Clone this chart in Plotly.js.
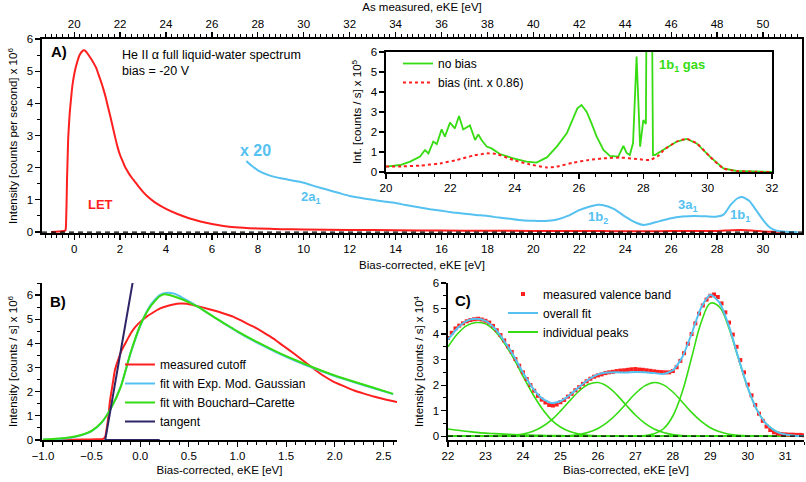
<!DOCTYPE html>
<html>
<head>
<meta charset="utf-8">
<script src="https://cdn.plot.ly/plotly-3.0.1.min.js"></script>
<style>html,body{margin:0;padding:0;background:#fff;}#chart{width:806px;height:482px;}</style>
</head>
<body>
<div id="chart"></div>
<script>
// ---------- Panel A : full spectrum (10^6 counts/s) ----------
const letX = [-1.0,-0.8,-0.6,-0.45,-0.38,-0.36,-0.33,-0.31,-0.28,-0.26,-0.22,-0.19,-0.14,-0.1,-0.05,0.0,0.07,0.14,0.2,0.27,0.34,0.41,0.48,0.55,0.65,0.75,0.85,0.96,1.06,1.17,1.27,1.37,1.47,1.58,1.68,1.78,1.88,1.99,2.1,2.2,2.3,2.4,2.52,2.64,2.8,3.0,3.25,3.5,4.0,4.5,5.0,5.5,6.0,6.5,7.0,8.0,9.0,10,12,14,16,18,20,22,23,24,25,26,27,28,28.5,29,29.5,30,30.5,31];
const letY = [0.0,0.01,0.02,0.03,0.05,0.14,0.9,1.65,2.4,2.9,3.4,3.72,4.1,4.4,4.68,4.89,5.12,5.3,5.44,5.54,5.61,5.65,5.64,5.58,5.48,5.37,5.25,5.1,4.9,4.68,4.45,4.2,3.9,3.58,3.27,2.96,2.67,2.41,2.22,2.05,1.92,1.8,1.68,1.57,1.42,1.25,1.07,0.93,0.72,0.56,0.43,0.33,0.25,0.19,0.15,0.11,0.09,0.08,0.065,0.055,0.045,0.04,0.035,0.03,0.03,0.025,0.025,0.03,0.03,0.035,0.05,0.06,0.05,0.02,0.005,0.0];
const biasShift = 20;   // "as measured" = bias-corrected + 20 eV

const x20X = [7.5,7.75,8.0,8.5,9.0,9.5,10.0,10.5,11.0,11.5,12.0,12.5,13.0,13.5,14.0,14.5,15.0,15.5,16.0,16.5,17.0,17.5,18.0,18.5,19.0,19.5,20.0,20.5,21.0,21.5,22.0,22.5,22.8,23.0,23.5,24.0,24.5,24.8,25.0,25.5,26.0,26.5,27.0,27.5,28.0,28.3,28.6,28.9,29.1,29.4,29.7,30.0,30.3,30.6,31.0,31.5];
const x20Y = [2.21,2.05,1.92,1.76,1.67,1.6,1.53,1.42,1.32,1.22,1.12,1.06,1.0,0.95,0.9,0.83,0.77,0.71,0.66,0.61,0.57,0.53,0.5,0.45,0.41,0.37,0.35,0.34,0.38,0.5,0.68,0.8,0.85,0.84,0.72,0.48,0.28,0.22,0.24,0.34,0.43,0.48,0.5,0.49,0.48,0.55,0.85,1.05,1.09,0.97,0.68,0.38,0.14,0.04,0.01,0.0];

// ---------- Inset (10^5 counts/s) ----------
const noBiasX = [20.0,20.44,20.75,21.06,21.21,21.32,21.47,21.58,21.73,21.83,21.99,22.14,22.27,22.4,22.61,22.77,22.87,22.97,23.13,23.28,23.54,23.96,24.37,24.68,25.0,25.31,25.62,25.83,25.95,26.08,26.24,26.39,26.55,26.76,26.96,27.22,27.38,27.48,27.58,27.68,27.79,27.9,28.0,28.08,28.12,28.24,28.3,28.36,28.62,29.04,29.35,29.66,30.07,30.49,30.9,31.5,32.0];
const noBiasY = [0.27,0.35,0.52,0.77,1.1,0.93,1.52,1.4,2.13,1.77,2.47,2.18,2.8,2.13,2.33,1.6,1.88,1.6,1.27,1.18,0.9,0.68,0.52,0.47,0.73,1.27,1.93,2.77,3.18,3.35,3.0,2.43,1.77,1.1,0.8,0.77,1.3,0.95,0.85,1.45,5.77,1.27,2.6,2.4,15,15,0.85,0.85,1.1,1.52,1.65,1.43,0.77,0.18,0.05,0.01,0.0];
const biasX = [20.0,20.5,21.06,21.68,22.2,22.72,23.13,23.44,23.96,24.47,25.0,25.3,25.83,26.3,26.76,27.3,27.8,28.2,28.5,28.62,29.04,29.35,29.66,30.07,30.49,30.9,31.5,32.0];
const biasY = [0.27,0.28,0.32,0.43,0.6,0.82,0.93,0.9,0.6,0.38,0.23,0.27,0.47,0.6,0.68,0.72,0.65,0.6,0.85,1.08,1.52,1.65,1.43,0.77,0.18,0.05,0.01,0.0];

// ---------- Panel B : cutoff (10^6 counts/s) ----------
const bcX  = [-1.0,-0.9,-0.8,-0.7,-0.6,-0.5,-0.4,-0.3,-0.2,-0.1,0.0,0.1,0.2,0.25,0.3,0.4,0.5,0.6,0.7,0.8,0.9,1.0,1.2,1.4,1.6,1.8,2.0,2.2,2.4,2.6];
const bcY  = [0.02,0.04,0.07,0.12,0.22,0.38,0.72,1.32,2.2,3.6,4.75,5.5,5.95,6.03,6.0,5.87,5.7,5.5,5.24,4.98,4.74,4.5,4.06,3.66,3.3,2.97,2.67,2.41,2.16,1.91];
const emgX = [-1.0,-0.8,-0.7,-0.6,-0.5,-0.4,-0.3,-0.2,-0.1,0.0,0.1,0.2,0.28,0.35,0.4,0.5,0.6,0.8,1.0,1.2,1.4,1.6,1.8,2.0,2.2,2.4,2.6];
const emgY = [0.01,0.05,0.1,0.2,0.37,0.7,1.32,2.22,3.58,4.72,5.55,6.0,6.1,6.06,5.97,5.74,5.5,4.98,4.48,4.03,3.63,3.27,2.95,2.65,2.39,2.14,1.9];
const tanX = [0.2,-0.36,-0.07];
const tanY = [0.0,0.0,6.7];

// ---------- Panel C : valence band (10^4 counts/s) ----------
const vbX = [22.0,22.1,22.2,22.3,22.4,22.5,22.6,22.7,22.8,22.9,23.0,23.1,23.2,23.3,23.4,23.5,23.6,23.7,23.8,23.9,24.0,24.1,24.2,24.3,24.4,24.5,24.6,24.7,24.8,24.9,25.0,25.1,25.2,25.3,25.4,25.5,25.6,25.7,25.8,25.9,26.0,26.1,26.2,26.3,26.4,26.5,26.6,26.7,26.8,26.9,27.0,27.1,27.2,27.3,27.4,27.5,27.6,27.7,27.8,27.9,28.0,28.1,28.2,28.3,28.4,28.5,28.6,28.7,28.8,28.9,29.0,29.1,29.2,29.3,29.4,29.5,29.6,29.7,29.8,29.9,30.0,30.1,30.2,30.3,30.4,30.5,30.6,30.7,30.8,30.9,31.0,31.1,31.2,31.3,31.4,31.5];
const vbY = [3.85,4.05,4.22,4.33,4.42,4.5,4.55,4.58,4.6,4.57,4.52,4.45,4.32,4.15,3.96,3.75,3.52,3.3,3.02,2.76,2.5,2.24,2.0,1.78,1.58,1.43,1.32,1.22,1.2,1.24,1.33,1.42,1.55,1.66,1.8,1.92,2.05,2.15,2.25,2.33,2.38,2.42,2.47,2.5,2.52,2.55,2.57,2.58,2.6,2.62,2.63,2.61,2.6,2.58,2.56,2.54,2.52,2.51,2.5,2.5,2.55,2.7,2.95,3.25,3.62,4.0,4.42,4.8,5.12,5.35,5.5,5.55,5.45,5.2,4.85,4.45,3.98,3.5,2.98,2.5,2.02,1.6,1.22,0.88,0.6,0.38,0.24,0.15,0.1,0.08,0.07,0.06,0.06,0.05,0.05,0.04];
const fitX = [22.0,22.25,22.5,22.75,23.0,23.25,23.5,23.75,24.0,24.25,24.5,24.75,25.0,25.25,25.5,25.75,26.0,26.25,26.5,26.75,27.0,27.25,27.5,27.75,28.0,28.25,28.5,28.75,29.0,29.25,29.5,29.75,30.0,30.25,30.5,30.75,31.0,31.25,31.5];
const fitY = [3.78,4.23,4.52,4.6,4.52,4.22,3.73,3.15,2.49,1.9,1.49,1.3,1.37,1.61,1.93,2.22,2.42,2.49,2.5,2.49,2.51,2.5,2.47,2.44,2.58,3.09,4.01,5.02,5.54,5.22,4.3,3.07,1.9,1.01,0.47,0.19,0.064,0.02,0.005];
const peak1 = [3.5,4.0,4.33,4.45,4.4,4.12,3.65,3.05,2.35,1.68,1.1,0.65,0.36,0.18,0.08,0.03,0.01,0,0,0,0,0,0,0,0,0,0,0,0,0,0,0,0,0,0,0,0,0,0];
const peak2 = [0,0,0,0,0,0,0,0.035,0.085,0.18,0.36,0.62,0.98,1.39,1.77,2.03,2.1,1.95,1.63,1.22,0.83,0.51,0.28,0.14,0.06,0.024,0.009,0.003,0,0,0,0,0,0,0,0,0,0,0];
const peak3 = [0,0,0,0,0,0,0,0,0,0,0,0,0.01,0.027,0.067,0.15,0.3,0.54,0.87,1.27,1.67,1.97,2.1,2.01,1.73,1.34,0.93,0.59,0.33,0.17,0.077,0.032,0.012,0.004,0,0,0,0,0];
const peak4 = [0,0,0,0,0,0,0,0,0,0,0,0,0,0,0,0,0,0,0,0,0.005,0.023,0.09,0.29,0.79,1.73,3.07,4.43,5.21,5.05,4.22,3.04,1.89,1.01,0.47,0.19,0.064,0.019,0.005];
const peak5 = [0.28,0.23,0.19,0.15,0.12,0.1,0.08,0.065,0.05,0.04,0.03,0.025,0.02,0.015,0.01,0.008,0.005,0,0,0,0,0,0,0,0,0,0,0,0,0,0,0,0,0,0,0,0,0,0];

const RED = '#ff1f1f', BLUE = '#55c1f0', GREEN = '#35dc12', NAVY = '#2d2566';
const FONT = 'Liberation Sans, Arial, sans-serif';

const traces = [
  // Panel A
  {x:letX, y:letY, xaxis:'x', yaxis:'y', mode:'lines', line:{color:RED, width:2, shape:'spline', smoothing:0.5}, showlegend:false},
  {x:x20X, y:x20Y, xaxis:'x', yaxis:'y', mode:'lines', line:{color:BLUE, width:2, shape:'spline', smoothing:0.6}, showlegend:false},
  // same LET spectrum on the "as measured" scale (invisible, carries the top axis)
  {x:letX.map(v => v + biasShift), y:letY, xaxis:'x2', yaxis:'y', mode:'lines', line:{color:'rgba(0,0,0,0)', width:0}, showlegend:false, hoverinfo:'skip'},
  // Inset
  {x:noBiasX, y:noBiasY, xaxis:'x3', yaxis:'y3', mode:'lines', name:'no bias', line:{color:GREEN, width:1.8}, legend:'legend'},
  {x:biasX, y:biasY, xaxis:'x3', yaxis:'y3', mode:'lines', name:'bias (int. x 0.86)', line:{color:RED, width:2, dash:'dot', shape:'spline', smoothing:0.6}, legend:'legend'},
  // Panel B
  {x:letX, y:letY, xaxis:'x4', yaxis:'y4', mode:'lines', name:'measured cutoff', line:{color:RED, width:2, shape:'spline', smoothing:0.5}, legend:'legend2'},
  {x:emgX, y:emgY, xaxis:'x4', yaxis:'y4', mode:'lines', name:'fit with Exp. Mod. Gaussian', line:{color:BLUE, width:2, shape:'spline', smoothing:0.6}, legend:'legend2'},
  {x:bcX, y:bcY, xaxis:'x4', yaxis:'y4', mode:'lines', name:'fit with Bouchard\u2013Carette', line:{color:GREEN, width:2, shape:'spline', smoothing:0.6}, legend:'legend2'},
  {x:tanX, y:tanY, xaxis:'x4', yaxis:'y4', mode:'lines', name:'tangent', line:{color:NAVY, width:2}, legend:'legend2'},
  // Panel C
  {x:fitX, y:peak5, xaxis:'x5', yaxis:'y5', mode:'lines', line:{color:GREEN, width:1.6, shape:'spline'}, showlegend:false},
  {x:fitX, y:peak1, xaxis:'x5', yaxis:'y5', mode:'lines', line:{color:GREEN, width:1.6, shape:'spline'}, showlegend:false},
  {x:fitX, y:peak2, xaxis:'x5', yaxis:'y5', mode:'lines', line:{color:GREEN, width:1.6, shape:'spline'}, showlegend:false},
  {x:fitX, y:peak3, xaxis:'x5', yaxis:'y5', mode:'lines', line:{color:GREEN, width:1.6, shape:'spline'}, showlegend:false},
  {x:fitX, y:peak4, xaxis:'x5', yaxis:'y5', mode:'lines', line:{color:GREEN, width:1.6, shape:'spline'}, showlegend:false},
  {x:vbX, y:vbY, xaxis:'x5', yaxis:'y5', mode:'markers', name:'measured valence band', marker:{color:RED, size:4, symbol:'square'}, legend:'legend3'},
  {x:fitX, y:fitY, xaxis:'x5', yaxis:'y5', mode:'lines', name:'overall fit', line:{color:BLUE, width:2, shape:'spline', smoothing:0.6}, legend:'legend3'},
  {x:[null], y:[null], xaxis:'x5', yaxis:'y5', mode:'lines', name:'individual peaks', line:{color:GREEN, width:2}, legend:'legend3'}
];

function axis(o){
  const base = {showline:true, linecolor:'black', linewidth:1.6, ticks:'outside', ticklen:5, tickwidth:1.2,
    tickcolor:'black', showgrid:false, zeroline:false, tickfont:{size:11.5, color:'black', family:FONT}, fixedrange:true};
  return Object.assign(base, o);
}
function minor(d){ return {dtick:d, ticklen:3, tickwidth:1, tickcolor:'black', ticks:'outside', showgrid:false}; }
const titleFont = {size:11.5, color:'black', family:FONT};
const W = 806, H = 482;
const px = v => v / W, py = v => 1 - v / H;

const layout = {
  width:W, height:H, margin:{l:0, r:0, t:0, b:0}, paper_bgcolor:'white', plot_bgcolor:'rgba(0,0,0,0)',
  font:{family:FONT, color:'black'},
  // Panel A
  xaxis: axis({domain:[px(42), px(802)], anchor:'y', range:[-1.4, 31.7], tick0:0, dtick:2, minor:minor(0.25), mirror:true,
    title:{text:'Bias-corrected, eKE [eV]', font:titleFont, standoff:6}}),
  xaxis2: axis({overlaying:'x', side:'top', anchor:'y', range:[-1.4 + biasShift, 31.7 + biasShift], tick0:0, dtick:2, minor:minor(0.25),
    title:{text:'As measured, eKE [eV]', font:titleFont, standoff:4}}),
  yaxis: axis({domain:[py(233), py(39)], anchor:'x', range:[-0.03, 6], dtick:1, minor:minor(0.5), mirror:true,
    title:{text:'Intensity [counts per second] x 10<sup>6</sup>', font:titleFont, standoff:6}}),
  // Inset
  xaxis3: axis({domain:[px(386), px(772)], anchor:'y3', range:[20, 32], tick0:20, dtick:2, minor:minor(0.5), mirror:true}),
  yaxis3: axis({domain:[py(172), py(52)], anchor:'x3', range:[0, 6], dtick:1, mirror:true,
    title:{text:'Int. [counts / s] x 10<sup>5</sup>', font:titleFont, standoff:6}}),
  // Panel B
  xaxis4: axis({domain:[px(42), px(397)], anchor:'y4', range:[-1.01, 2.64], tick0:0, dtick:0.5, tickformat:'.1f', minor:minor(0.1),
    title:{text:'Bias-corrected, eKE [eV]', font:titleFont, standoff:4}}),
  yaxis4: axis({domain:[py(440), py(283)], anchor:'x4', range:[0, 6.5], dtick:1, minor:minor(0.5),
    title:{text:'Intensity [counts / s] x 10<sup>6</sup>', font:titleFont, standoff:6}}),
  // Panel C
  xaxis5: axis({domain:[px(448), px(804)], anchor:'y5', range:[22, 31.5], tick0:22, dtick:1, minor:minor(0.25),
    title:{text:'Bias-corrected, eKE [eV]', font:titleFont, standoff:4}}),
  yaxis5: axis({domain:[py(440), py(283)], anchor:'x5', range:[-0.15, 6], dtick:1, minor:minor(0.5),
    title:{text:'Intensity [counts / s] x 10<sup>4</sup>', font:titleFont, standoff:6}}),
  legend: {x:px(398), y:py(73), xanchor:'left', yanchor:'middle', bgcolor:'rgba(0,0,0,0)', borderwidth:0, font:{size:12, family:FONT}, tracegroupgap:0},
  legend2:{x:px(120), y:py(393), xanchor:'left', yanchor:'middle', bgcolor:'rgba(0,0,0,0)', borderwidth:0, font:{size:12, family:FONT}, tracegroupgap:0},
  legend3:{x:px(503), y:py(313), xanchor:'left', yanchor:'middle', bgcolor:'rgba(0,0,0,0)', borderwidth:0, font:{size:12, family:FONT}, tracegroupgap:0},
  shapes: [
    {type:'line', xref:'x domain', yref:'y', x0:0, x1:1, y0:0, y1:0, line:{color:'black', width:1.3, dash:'5px,4px'}},
    {type:'line', xref:'x5 domain', yref:'y5', x0:0, x1:1, y0:0, y1:0, line:{color:'black', width:1.3, dash:'5px,4px'}}
  ],
  annotations: [
    {xref:'x', yref:'y', x:-1.09, y:5.6, xanchor:'left', yanchor:'middle', text:'<b>A)</b>', showarrow:false, font:{size:15, color:'black'}},
    {xref:'x', yref:'y', x:2.0, y:5.78, xanchor:'left', yanchor:'top', align:'left', text:'He II \u03b1 full liquid-water spectrum<br>bias = -20 V', showarrow:false, font:{size:12.5, color:'black'}},
    {xref:'x', yref:'y', x:1.15, y:0.87, text:'<b>LET</b>', showarrow:false, font:{size:13, color:RED}},
    {xref:'x', yref:'y', x:7.92, y:2.54, text:'<b>x 20</b>', showarrow:false, font:{size:16, color:BLUE}},
    {xref:'x', yref:'y', x:10.32, y:1.08, text:'<b>2a<sub>1</sub></b>', showarrow:false, font:{size:13, color:BLUE}},
    {xref:'x', yref:'y', x:22.81, y:0.46, text:'<b>1b<sub>2</sub></b>', showarrow:false, font:{size:13, color:BLUE}},
    {xref:'x', yref:'y', x:26.73, y:0.84, text:'<b>3a<sub>1</sub></b>', showarrow:false, font:{size:13, color:BLUE}},
    {xref:'x', yref:'y', x:29.0, y:0.5, text:'<b>1b<sub>1</sub></b>', showarrow:false, font:{size:13, color:BLUE}},
    {xref:'x3', yref:'y3', x:29.2, y:5.35, text:'<b>1b<sub>1</sub> gas</b>', showarrow:false, font:{size:13, color:GREEN}},
    {xref:'x4', yref:'y4', x:-0.85, y:5.74, text:'<b>B)</b>', showarrow:false, font:{size:15, color:'black'}},
    {xref:'x5', yref:'y5', x:22.4, y:5.3, text:'<b>C)</b>', showarrow:false, font:{size:15, color:'black'}}
  ]
};

Plotly.newPlot('chart', traces, layout, {staticPlot:true, displayModeBar:false});
</script>
</body>
</html>
